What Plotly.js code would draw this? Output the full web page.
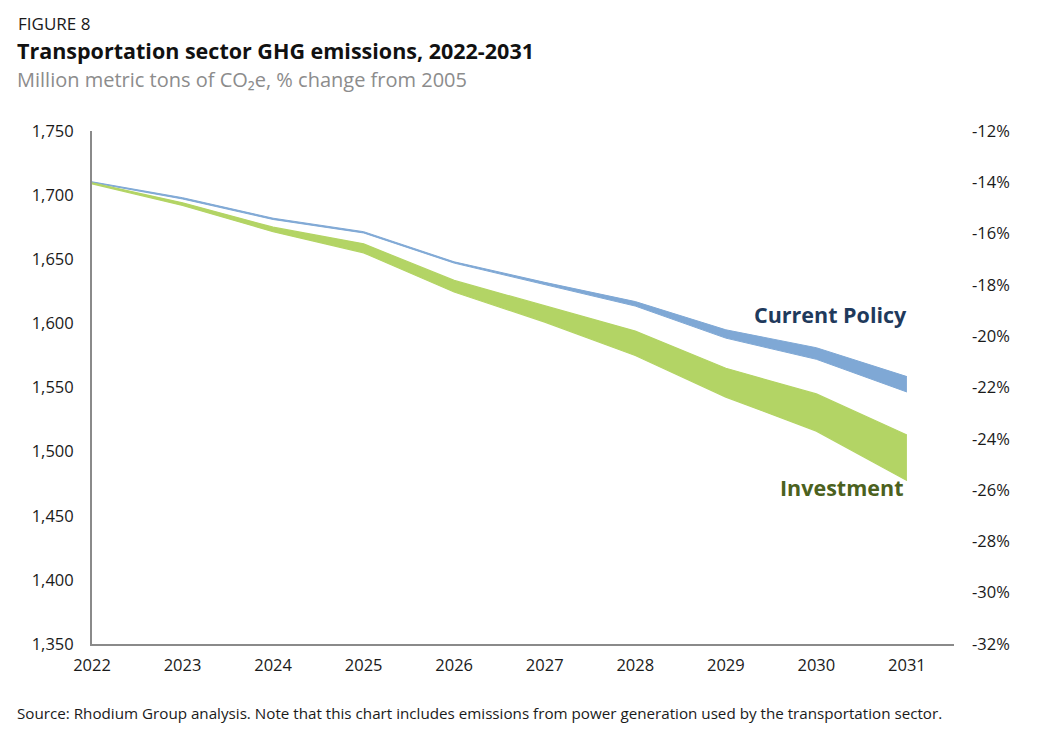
<!DOCTYPE html>
<html>
<head>
<meta charset="utf-8">
<script src="https://cdn.plot.ly/plotly-3.0.1.min.js"></script>
<style>
  html, body { margin: 0; padding: 0; background: #ffffff; }
  #chart { width: 1044px; height: 738px; }
</style>
</head>
<body>
<div id="chart"></div>
<script>
// ---- data (million metric tons CO2e) ----
const years = [2022, 2023, 2024, 2025, 2026, 2027, 2028, 2029, 2030, 2031];
const currentPolicyHigh = [1710.4, 1698, 1682, 1671.5, 1648, 1632, 1617, 1595, 1581, 1558.5];
const currentPolicyLow  = [1709.8, 1697, 1681, 1670.5, 1647, 1630, 1613.5, 1588.5, 1572, 1546.5];
const investmentHigh    = [1709.6, 1694, 1675, 1662, 1633.5, 1613.5, 1594, 1565, 1545, 1513];
const investmentLow     = [1708.8, 1692, 1671.5, 1655, 1624.5, 1601, 1575, 1542.5, 1516, 1477.5];
const leftTicks  = [1350, 1400, 1450, 1500, 1550, 1600, 1650, 1700, 1750];
const rightTicks = [-32, -30, -28, -26, -24, -22, -20, -18, -16, -14, -12];
const seriesNames = ['Current Policy', 'Investment'];

const FONT = 'Open Sans, Lato, sans-serif';
const BLUE = '#7fa8d5';
const GREEN = '#b3d465';

// plot area in pixels
const L = 92, R = 954, T = 131, B = 644;
const px = x => (x - L) / (R - L);
const py = y => (B - y) / (B - T);

const traces = [
  {x: years, y: currentPolicyLow, mode: 'lines', line: {color: BLUE, width: 1}, hoverinfo: 'skip', showlegend: false},
  {x: years, y: currentPolicyHigh, mode: 'lines', line: {color: BLUE, width: 1}, fill: 'tonexty', fillcolor: BLUE, name: seriesNames[0], showlegend: false},
  {x: years, y: investmentLow, mode: 'lines', line: {color: GREEN, width: 1.2}, hoverinfo: 'skip', showlegend: false},
  {x: years, y: investmentHigh, mode: 'lines', line: {color: GREEN, width: 1.2}, fill: 'tonexty', fillcolor: GREEN, name: seriesNames[1], showlegend: false},
  {x: [years[0], years[years.length-1]], y: [rightTicks[0], rightTicks[rightTicks.length-1]], yaxis: 'y2', mode: 'lines', line: {width: 0, color: 'rgba(0,0,0,0)'}, hoverinfo: 'skip', showlegend: false}
];

const layout = {
  width: 1044, height: 738,
  margin: {l: L, r: 1044 - R, t: T, b: 738 - B, pad: 0},
  paper_bgcolor: '#ffffff', plot_bgcolor: '#ffffff',
  font: {family: FONT, color: '#1a1a1a', size: 16},
  showlegend: false,
  xaxis: {
    range: [2022, 2031.52], tickvals: years, ticktext: years.map(String),
    showgrid: false, zeroline: false, showline: true, linecolor: '#8a8a8a', linewidth: 2,
    ticks: '', tickfont: {size: 16.5, family: FONT, color: '#1a1a1a'}, ticklabelstandoff: 5
  },
  yaxis: {
    range: [1350, 1750], tickvals: leftTicks, ticktext: leftTicks.map(v => v.toLocaleString('en-US')),
    showgrid: false, zeroline: false, showline: true, linecolor: '#8a8a8a', linewidth: 2,
    ticks: '', tickfont: {size: 16.5, family: FONT, color: '#1a1a1a'}, ticklabelstandoff: 13
  },
  yaxis2: {
    overlaying: 'y', side: 'right', range: [-32, -12], tickvals: rightTicks,
    ticktext: rightTicks.map(v => v + '%'),
    showgrid: false, zeroline: false, showline: false, ticks: '',
    tickfont: {size: 16.5, family: FONT, color: '#1a1a1a'}, ticklabelstandoff: 17
  },
  annotations: [
    {xref: 'paper', yref: 'paper', x: px(16), y: py(10), xanchor: 'left', yanchor: 'top', showarrow: false,
     text: 'FIGURE 8', font: {family: FONT, size: 17, color: '#1a1a1a'}},
    {xref: 'paper', yref: 'paper', x: px(15), y: py(34), xanchor: 'left', yanchor: 'top', showarrow: false,
     text: '<b>Transportation sector GHG emissions, 2022-2031</b>', font: {family: FONT, size: 21.5, color: '#111111'}},
    {xref: 'paper', yref: 'paper', x: px(15), y: py(64), xanchor: 'left', yanchor: 'top', showarrow: false,
     text: 'Million metric tons of CO₂e, % change from 2005', font: {family: FONT, size: 20, color: '#8c8c8c'}},
    {xref: 'paper', yref: 'paper', x: px(909), y: py(314), xanchor: 'right', yanchor: 'middle', showarrow: false,
     text: '<b>' + seriesNames[0] + '</b>', font: {family: FONT, size: 21.5, color: '#1f3a5c'}},
    {xref: 'paper', yref: 'paper', x: px(905), y: py(487), xanchor: 'right', yanchor: 'middle', showarrow: false,
     text: '<b>' + seriesNames[1] + '</b>', font: {family: FONT, size: 21.5, color: '#4b6120'}},
    {xref: 'paper', yref: 'paper', x: px(15), y: py(713), xanchor: 'left', yanchor: 'middle', showarrow: false,
     text: 'Source: Rhodium Group analysis. Note that this chart includes emissions from power generation used by the transportation sector.',
     font: {family: FONT, size: 15.2, color: '#1a1a1a'}}
  ]
};

Plotly.newPlot('chart', traces, layout, {displayModeBar: false, staticPlot: true});
</script>
</body>
</html>
